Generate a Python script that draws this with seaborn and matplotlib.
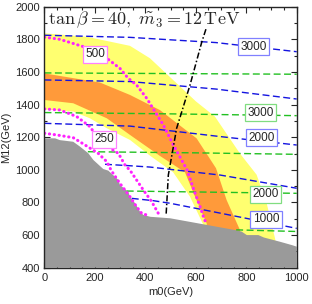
import numpy as np
import pandas as pd
import matplotlib
matplotlib.use("Agg")
import matplotlib.pyplot as plt
from matplotlib.ticker import MultipleLocator
import seaborn as sns

# excluded region (grey), upper boundary
grey_m0 = [0, 42, 61, 114, 141, 174, 194, 233, 253, 293, 299, 332, 339, 359, 379, 392,
           420, 498, 755, 782, 802, 848, 870, 907, 934, 980, 1000]
grey_m12 = [1193, 1193, 1182, 1172, 1142, 1101, 1060, 1005, 995, 938, 907, 866, 835, 795, 743, 723,
            712, 703, 631, 621, 600, 600, 585, 570, 559, 539, 529]

# yellow band edges
yel_out_m0 = [0, 170, 339, 418, 545, 600, 676, 775, 841, 881, 914, 930]
yel_out_m12 = [1837, 1815, 1760, 1684, 1500, 1420, 1326, 1100, 970, 795, 580, 450]
yel_in_m0 = [0, 114, 180, 247, 339, 420, 510, 577, 630, 640]
yel_in_m12 = [1370, 1357, 1316, 1255, 1183, 1085, 985, 835, 662, 450]

# orange band edges
ora_up_m0 = [0, 220, 339, 458, 603, 680, 722, 775, 790]
ora_up_m12 = [1591, 1535, 1459, 1366, 1193, 1010, 815, 631, 450]
ora_lo_m0 = [0, 114, 247, 339, 458, 557, 597, 643, 655]
ora_lo_m12 = [1428, 1408, 1316, 1214, 1085, 985, 835, 672, 450]

# magenta dotted contours
mag_curves = {
    "500": ([0, 61, 154, 247, 299, 332, 365, 405, 438, 471, 511, 565, 597, 617, 630, 643],
            [1813, 1800, 1755, 1684, 1622, 1561, 1520, 1439, 1357, 1275, 1152, 1000, 856, 774, 713, 662]),
    "250b": ([0, 61, 128, 180, 213, 260, 293, 319, 340, 392, 425, 451, 458],
             [1373, 1367, 1326, 1265, 1193, 1132, 1101, 1030, 995, 876, 805, 734, 709]),
    "250": ([0, 48, 114, 161, 213, 247, 265, 299, 339, 365, 385, 405],
            [1224, 1214, 1197, 1152, 1101, 1050, 995, 917, 835, 774, 734, 723]),
}

# blue dashed contours
blue_curves = [
    ([0, 339, 680, 1000], [1825, 1812, 1780, 1724]),
    ([0, 339, 680, 1000], [1551, 1541, 1495, 1434]),
    ([0, 339, 690, 1000], [1285, 1268, 1205, 1152]),
    ([240, 339, 418, 696, 1000], [1034, 1025, 1017, 968, 887]),
    ([346, 431, 498, 669, 1000], [825, 811, 795, 743, 641]),
]
# green dashed contours
green_curves = [
    ([0, 1000], [1594, 1586]),
    ([0, 500, 1000], [1351, 1343, 1332]),
    ([172, 600, 1000], [1111, 1104, 1095]),
    ([326, 1000], [870, 856]),
    ([760, 1000], [632, 622]),
]

# black dash-dot line
blk_m0 = [640, 623, 577, 524, 491, 485, 482]
blk_m12 = [1862, 1780, 1520, 1255, 968, 800, 720]

# contour labels: text, m0, M12, edge colour
labels = [
    ("500", 200, 1708, "#ff80ff"),
    ("250", 236, 1188, "#ff80ff"),
    ("3000", 828, 1755, "#8080ff"),
    ("3000", 856, 1350, "#80dd80"),
    ("2000", 861, 1196, "#8080ff"),
    ("2000", 878, 850, "#80dd80"),
    ("1000", 878, 697, "#8080ff"),
]

sns.set_style("ticks")
plt.rcParams["font.family"] = ["Liberation Sans", "DejaVu Sans"]
plt.rcParams["mathtext.fontset"] = "cm"

fig = plt.figure(figsize=(3.12, 3.04), dpi=100)
ax = fig.add_axes([0.1426, 0.1194, 0.8084, 0.8586])

ax.fill(yel_out_m0 + yel_in_m0[::-1], yel_out_m12 + yel_in_m12[::-1],
        color="#ffff70", lw=0, zorder=1)
ax.fill(ora_up_m0 + ora_lo_m0[::-1], ora_up_m12 + ora_lo_m12[::-1],
        color="#ff9a3a", lw=0, zorder=2)
ax.fill(grey_m0 + [1000, 0], grey_m12 + [400, 400], color="#9a9a9a", lw=0, zorder=3)


def draw(xs, ys, **kw):
    df = pd.DataFrame({"m0": xs, "m12": ys})
    sns.lineplot(data=df, x="m0", y="m12", sort=False, estimator=None, ax=ax, **kw)


for xs, ys in blue_curves:
    draw(xs, ys, color="#1414e0", lw=1.0, linestyle=(0, (5, 2.5)), zorder=4)
for xs, ys in green_curves:
    draw(xs, ys, color="#22c022", lw=1.0, linestyle=(0, (5, 2.5)), zorder=4)
for xs, ys in mag_curves.values():
    draw(xs, ys, color="#ff22ff", lw=2.2, linestyle=(0, (0.1, 1.5)),
         dash_capstyle="round", zorder=5)
draw(blk_m0, blk_m12, color="black", lw=1.1, linestyle=(0, (4, 1.5, 1, 1.5)), zorder=6)

for txt, x, y, ec in labels:
    ax.text(x, y, txt, fontsize=8.5, ha="center", va="center", zorder=7,
            bbox=dict(boxstyle="square,pad=0.2", fc="white", ec=ec, lw=0.9))

ax.text(0.012, 0.99, r"$\tan\beta=40,\ \tilde{m}_3=12\,\mathrm{TeV}$",
        transform=ax.transAxes, fontsize=13, ha="left", va="top", zorder=8)

ax.set_xlim(0, 1000)
ax.set_ylim(400, 2000)
ax.xaxis.set_major_locator(MultipleLocator(200))
ax.xaxis.set_minor_locator(MultipleLocator(50))
ax.yaxis.set_major_locator(MultipleLocator(200))
ax.yaxis.set_minor_locator(MultipleLocator(100))
ax.tick_params(which="both", direction="in", top=True, right=True, labelsize=8, width=0.8)
ax.tick_params(which="major", length=4)
ax.tick_params(which="minor", length=2)
for s in ax.spines.values():
    s.set_linewidth(1.0)
    s.set_zorder(9)
ax.set_xlabel("m0(GeV)", fontsize=8, labelpad=3)
ax.set_ylabel("M12(GeV)", fontsize=8, labelpad=3)

fig.savefig("out.png", dpi=100)
